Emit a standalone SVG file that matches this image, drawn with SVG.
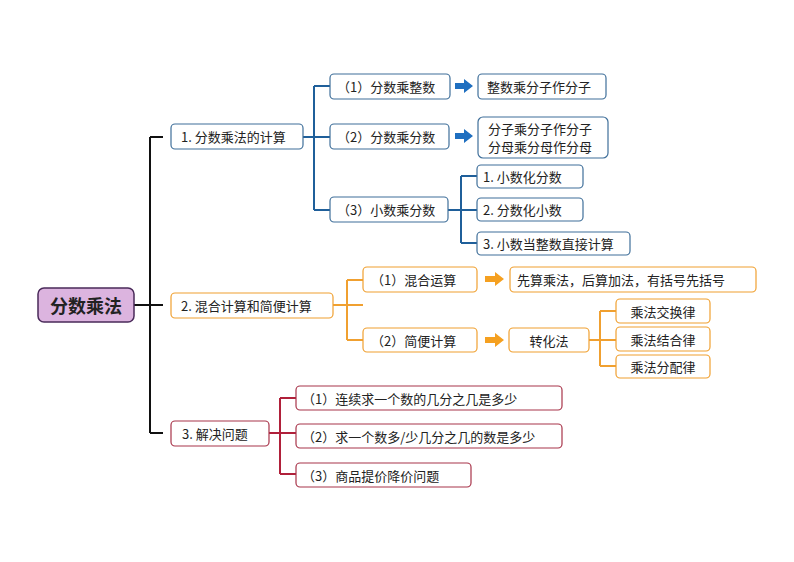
<svg xmlns="http://www.w3.org/2000/svg" width="794" height="562" viewBox="0 0 794 562">
<defs>
<style>
text{font-family:"Noto Sans CJK SC","Liberation Sans",sans-serif;font-size:13px;fill:#222;dominant-baseline:central}
.b{fill:#fff;stroke:#3f6f9a;stroke-width:1.2}
.o{fill:#fff;stroke:#f0a030;stroke-width:1.2}
.r{fill:#fff;stroke:#a8344a;stroke-width:1.2}
.lb{fill:none;stroke:#1f5f9a;stroke-width:2}
.lo{fill:none;stroke:#f0a030;stroke-width:2}
.lr{fill:none;stroke:#b0203a;stroke-width:2}
.lk{fill:none;stroke:#111;stroke-width:2}
.ab{fill:#1f6fc0}
.ao{fill:#f5a020}
</style>
</defs>
<g id="connectors">
<path class="lk" d="M134,305H150M150,137V433M150,137H163M150,305H163M150,433H163"/>
<path class="lb" d="M303,137H330M314,86V210M314,86H330M314,210H330M448,210H477M461,176V243M461,176H477M461,243H477"/>
<path class="ab" d="M455,83H464V79L473,86L464,93V89H455z"/>
<path class="ab" d="M455,133H464V129L473,136L464,143V139H455z"/>
<path class="lo" d="M333,305H363M347,280V340M347,280H363M347,340H363M589,340H616M600,311V366M600,311H616M600,366H616"/>
<path class="ao" d="M485,276H495V272L504,279L495,286V282H485z"/>
<path class="ao" d="M485,337H495V333L504,340L495,347V343H485z"/>
<path class="lr" d="M269,433H296M280,398V474M280,398H296M280,474H296"/>
</g>
<g id="root"><rect x="38" y="288" width="96" height="34" rx="6" fill="#dcb4df" stroke="#4a2a5a" stroke-width="1.5"/><text x="86" y="305" text-anchor="middle" style="font-size:18px;font-weight:bold">分数乘法</text></g>
<g id="n1"><rect class="b" x="171" y="124" width="132" height="25" rx="4"/><text x="181" y="136.5">1. 分数乘法的计算</text></g>
<g id="n11"><rect class="b" x="330" y="74" width="120" height="25" rx="4"/><text x="337" y="86.5">（1）分数乘整数</text></g>
<g id="n11r"><rect class="b" x="478" y="74" width="128" height="25" rx="4"/><text x="487" y="86.5">整数乘分子作分子</text></g>
<g id="n12"><rect class="b" x="330" y="124" width="119" height="25" rx="4"/><text x="337" y="136.5">（2）分数乘分数</text></g>
<g id="n12r"><rect class="b" x="478" y="117" width="130" height="41" rx="5"/><text x="488" y="128.5">分子乘分子作分子</text><text x="488" y="146.5">分母乘分母作分母</text></g>
<g id="n13"><rect class="b" x="330" y="197" width="118" height="25" rx="4"/><text x="337" y="209.5">（3）小数乘分数</text></g>
<g id="n131"><rect class="b" x="477" y="165" width="106" height="23" rx="4"/><text x="483" y="176.5">1. 小数化分数</text></g>
<g id="n132"><rect class="b" x="477" y="198" width="106" height="23" rx="4"/><text x="483" y="209.5">2. 分数化小数</text></g>
<g id="n133"><rect class="b" x="477" y="232" width="153" height="23" rx="4"/><text x="483" y="243.5">3. 小数当整数直接计算</text></g>
<g id="n2"><rect class="o" x="171" y="293" width="162" height="25" rx="4"/><text x="181" y="305.5">2. 混合计算和简便计算</text></g>
<g id="n21"><rect class="o" x="363" y="267" width="114" height="25" rx="4"/><text x="371" y="279.5">（1）混合运算</text></g>
<g id="n21r"><rect class="o" x="510" y="267" width="246" height="25" rx="4"/><text x="517" y="279.5">先算乘法，后算加法，有括号先括号</text></g>
<g id="n22"><rect class="o" x="363" y="328" width="114" height="24" rx="4"/><text x="371" y="340">（2）简便计算</text></g>
<g id="n22r"><rect class="o" x="509" y="328" width="80" height="24" rx="4"/><text x="549" y="340" text-anchor="middle">转化法</text></g>
<g id="n221"><rect class="o" x="616" y="299" width="94" height="24" rx="4"/><text x="663" y="311" text-anchor="middle">乘法交换律</text></g>
<g id="n222"><rect class="o" x="616" y="327" width="94" height="24" rx="4"/><text x="663" y="339" text-anchor="middle">乘法结合律</text></g>
<g id="n223"><rect class="o" x="616" y="355" width="94" height="23" rx="4"/><text x="663" y="366.5" text-anchor="middle">乘法分配律</text></g>
<g id="n3"><rect class="r" x="171" y="421" width="98" height="25" rx="4"/><text x="182" y="433.5">3. 解决问题</text></g>
<g id="n31"><rect class="r" x="296" y="386" width="266" height="24" rx="4"/><text x="302" y="398">（1）连续求一个数的几分之几是多少</text></g>
<g id="n32"><rect class="r" x="296" y="424" width="266" height="24" rx="4"/><text x="302" y="436">（2）求一个数多/少几分之几的数是多少</text></g>
<g id="n33"><rect class="r" x="296" y="463" width="175" height="24" rx="4"/><text x="302" y="475">（3）商品提价降价问题</text></g>
</svg>
